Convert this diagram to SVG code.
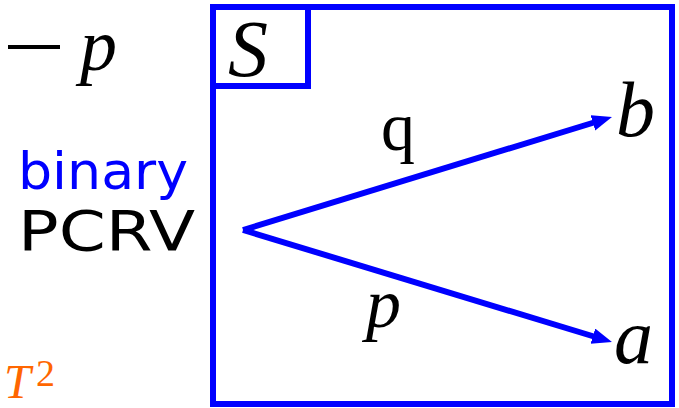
<svg xmlns="http://www.w3.org/2000/svg" width="679" height="408" viewBox="0 0 679 408">
<style>
.m{font-family:"Liberation Serif","DejaVu Serif",serif;font-style:italic;fill:#000}
.r{font-family:"Liberation Serif","DejaVu Serif",serif;fill:#000}
.s{font-family:"DejaVu Sans","Noto Sans",sans-serif}
.box{fill:none;stroke:#0000ff;stroke-width:6}
.edge{stroke:#0000ff;stroke-width:6;fill:none;marker-end:url(#ah)}
</style>
<defs>
<marker id="ah" markerUnits="userSpaceOnUse" markerWidth="22" markerHeight="18" refX="8" refY="8" orient="auto">
<path d="M0,0 L20,8 L0,16 z" fill="#0000ff"/>
</marker>
</defs>
<rect width="679" height="408" fill="#fff"/>
<g id="left-labels">
<line x1="8" y1="47" x2="60" y2="47" stroke="#000" stroke-width="4"/>
<text class="m" x="80" y="70" font-size="74">p</text>
<text class="s" x="18" y="189" font-size="52" fill="#0000ff" textLength="170" lengthAdjust="spacingAndGlyphs">binary</text>
<text class="s" x="18" y="250" font-size="55" fill="#000" textLength="177" lengthAdjust="spacingAndGlyphs">PCRV</text>
<text class="m" x="4" y="398" font-size="48" style="fill:#ff6600">T</text>
<text class="r" x="36" y="386" font-size="38" style="fill:#ff6600">2</text>
</g>
<g id="S-box">
<rect class="box" x="213" y="7" width="459" height="397"/>
<rect class="box" x="213" y="7" width="95" height="79"/>
<text class="m" x="228" y="76" font-size="80">S</text>
</g>
<g id="node-b"><text class="m" x="616" y="136" font-size="78">b</text></g>
<g id="node-a"><text class="m" x="614" y="363" font-size="78">a</text></g>
<g id="connectors">
<line class="edge" x1="243" y1="230" x2="600.5" y2="120.5"/>
<line class="edge" x1="243" y1="230" x2="600.5" y2="338.5"/>
<text class="r" x="381" y="150" font-size="68">q</text>
<text class="m" x="366" y="327" font-size="70">p</text>
</g>
</svg>
